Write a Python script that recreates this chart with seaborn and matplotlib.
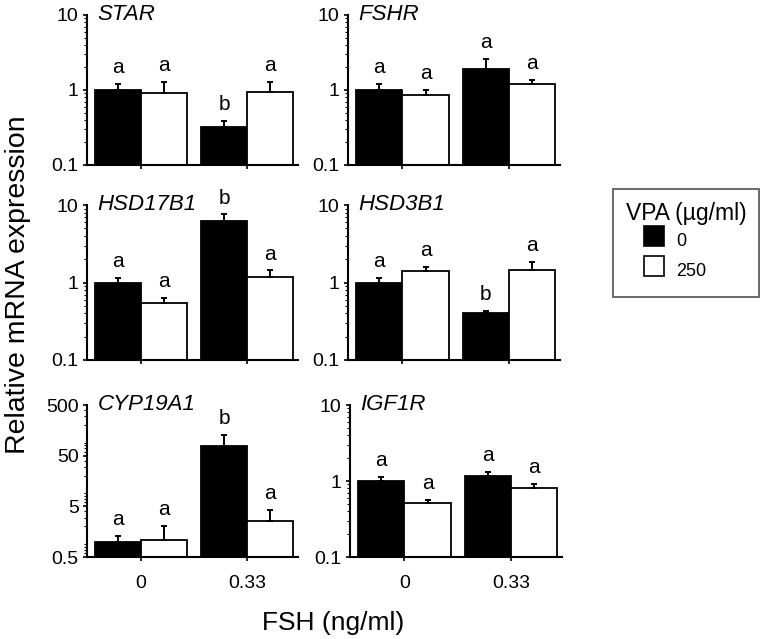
import numpy as np
import pandas as pd
import seaborn as sns
from matplotlib import pyplot as plt
from matplotlib.lines import Line2D
from matplotlib.ticker import LogLocator, NullFormatter

# Data
genes = ['STAR', 'FSHR', 'HSD17B1', 'HSD3B1', 'CYP19A1', 'IGF1R']
fshLevels = ['0', '0.33']
vpaLevels = ['0', '250']

# Order of four bars: (FSH 0, VPA 0), (FSH 0, VPA 250), (FSH 0.33, VPA 0), (FSH 0.33, VPA 250)
starMean = [1.0, 0.92, 0.32, 0.94]
starErr = [0.19, 0.35, 0.065, 0.33]
starLetters = ['a', 'a', 'b', 'a']

fshrMean = [1.0, 0.86, 1.89, 1.19]
fshrErr = [0.2, 0.14, 0.68, 0.17]
fshrLetters = ['a', 'a', 'a', 'a']

hsd17b1Mean = [1.0, 0.55, 6.2, 1.18]
hsd17b1Err = [0.14, 0.077, 1.35, 0.25]
hsd17b1Letters = ['a', 'a', 'b', 'a']

hsd3b1Mean = [1.0, 1.42, 0.406, 1.46]
hsd3b1Err = [0.15, 0.17, 0.02, 0.38]
hsd3b1Letters = ['a', 'a', 'b', 'a']

cyp19a1Mean = [1.0, 1.06, 79.0, 2.6]
cyp19a1Err = [0.30, 1.0, 50.0, 1.64]
cyp19a1Letters = ['a', 'a', 'b', 'a']

igf1rMean = [1.0, 0.52, 1.15, 0.80]
igf1rErr = [0.14, 0.04, 0.16, 0.11]
igf1rLetters = ['a', 'a', 'a', 'a']

defaultTicks = [0.1, 1, 10]
cypTicks = [0.5, 5, 50, 500]

allMeans = [starMean, fshrMean, hsd17b1Mean, hsd3b1Mean, cyp19a1Mean, igf1rMean]
allErrs = [starErr, fshrErr, hsd17b1Err, hsd3b1Err, cyp19a1Err, igf1rErr]
allLetters = [starLetters, fshrLetters, hsd17b1Letters, hsd3b1Letters, cyp19a1Letters, igf1rLetters]

# Build long table
rows = []
for gene, means, errs, letters in zip(genes, allMeans, allErrs, allLetters):
    k = 0
    for fsh in fshLevels:
        for vpa in vpaLevels:
            rows.append({'gene': gene, 'FSH': fsh, 'VPA': vpa,
                         'value': means[k], 'err': errs[k], 'letter': letters[k]})
            k += 1
data = pd.DataFrame(rows)

sns.set_style('ticks')
plt.rcParams['font.family'] = ['Liberation Sans', 'DejaVu Sans']
plt.rcParams['font.size'] = 13
for key in ['text.color', 'axes.labelcolor', 'xtick.color', 'ytick.color', 'axes.edgecolor']:
    plt.rcParams[key] = 'black'

fig = plt.figure(figsize=(7.64, 6.39), dpi=100)
W, H = 764.0, 639.0

# axes boxes in pixels: (left, top, right, bottom)
boxes = [(87, 15, 298, 165), (348, 15, 560, 165),
         (87, 205, 298, 360), (348, 205, 560, 360),
         (87, 405, 298, 557), (350, 405, 562, 557)]

palette = {'0': 'black', '250': 'white'}

for i, gene in enumerate(genes):
    l, t, r, b = boxes[i]
    ax = fig.add_axes([l / W, 1 - b / H, (r - l) / W, (b - t) / H])
    sub = data[data.gene == gene]
    sns.barplot(data=sub, x='FSH', y='value', hue='VPA', order=fshLevels,
                hue_order=vpaLevels, palette=palette, edgecolor='black',
                linewidth=1.3, width=0.87, errorbar=None, legend=False, ax=ax)
    ax.set_yscale('log')
    ticks = cypTicks if gene == 'CYP19A1' else defaultTicks
    ax.set_ylim(ticks[0], ticks[-1])
    ax.set_yticks(ticks)
    ax.set_yticklabels([('%g' % v) for v in ticks], fontsize=14)
    ax.yaxis.set_minor_locator(LogLocator(base=10, subs=np.arange(2, 10)))
    ax.yaxis.set_minor_formatter(NullFormatter())
    ax.set_xlim(-0.51, 1.48)

    # upper error bars and letters
    barContainers = list(ax.containers)
    for hIdx, container in enumerate(barContainers):
        for fIdx, bar in enumerate(container):
            row = sub[(sub.FSH == fshLevels[fIdx]) & (sub.VPA == vpaLevels[hIdx])].iloc[0]
            xc = bar.get_x() + bar.get_width() / 2
            ax.errorbar(xc, row.value, yerr=[[0], [row.err]], fmt='none',
                        ecolor='black', elinewidth=1.4, capsize=2.2, capthick=1.4)
            ax.annotate(row.letter, (xc, row.value + row.err), xytext=(0, 5),
                        textcoords='offset points', ha='center', va='bottom',
                        fontsize=15, annotation_clip=False)

    ax.text(0.05, 1.0, gene, transform=ax.transAxes, ha='left', va='center',
            fontsize=16, style='italic')

    sns.despine(ax=ax)
    for side in ['left', 'bottom']:
        ax.spines[side].set_linewidth(1.5)
    ax.tick_params(axis='y', which='major', length=3, width=1.2, pad=3)
    ax.tick_params(axis='y', which='minor', length=2, width=0.8)
    ax.tick_params(axis='x', length=3, width=1.2, pad=10)
    ax.set_xlabel('')
    ax.set_ylabel('')
    ax.set_xticks([0, 1])
    if i >= 4:
        ax.set_xticklabels(fshLevels, fontsize=14)
    else:
        ax.set_xticklabels([])

fig.text(18 / W, 1 - 285 / H, 'Relative mRNA expression', rotation=90,
         ha='center', va='center', fontsize=20.5)
fig.text(333 / W, 1 - 623 / H, 'FSH (ng/ml)', ha='center', va='center', fontsize=19)

handles = [Line2D([], [], linestyle='none', marker='s', markersize=14.5,
                  markerfacecolor='black', markeredgecolor='black', markeredgewidth=1.2),
           Line2D([], [], linestyle='none', marker='s', markersize=14.5,
                  markerfacecolor='white', markeredgecolor='black', markeredgewidth=1.2)]
leg = fig.legend(handles, vpaLevels, title='VPA (µg/ml)', loc='upper left',
                 bbox_to_anchor=(613 / W, 1 - 189 / H), borderaxespad=0,
                 frameon=True, fancybox=False, fontsize=13, title_fontsize=16.5,
                 handlelength=3.1, handleheight=2.1, handletextpad=-0.3,
                 labelspacing=0.05, borderpad=0.7, alignment='left')
leg.get_frame().set_edgecolor('#444444')
leg.get_frame().set_linewidth(1.4)

plt.savefig('out.png', dpi=100)
